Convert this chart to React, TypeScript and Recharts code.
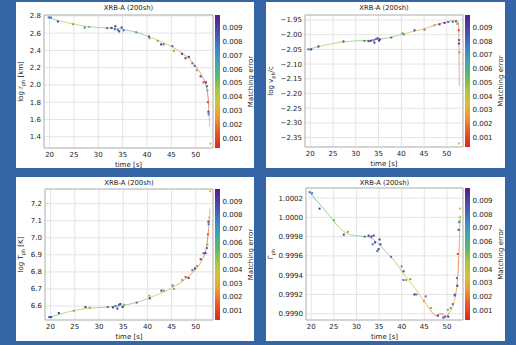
import type { ReactNode } from 'react';
import { ComposedChart, Line, Scatter, XAxis, YAxis, CartesianGrid, ReferenceArea } from 'recharts';

const FONT = '"DejaVu Sans", Verdana, sans-serif';
const TIME_DOMAIN: [number, number] = [18.85, 53.55];
const timeTicks = [20, 25, 30, 35, 40, 45, 50];
const ERR_DOMAIN: [number, number] = [0.0003, 0.0099];
const errTicks = [0.001, 0.002, 0.003, 0.004, 0.005, 0.006, 0.007, 0.008, 0.009];

// colour map of the matching error
const cmapStops = [0.0003, 0.0015, 0.0025, 0.0035, 0.0045, 0.0055, 0.0065, 0.0075, 0.0085, 0.0099];
const cmapColors = ['#d9281f', '#e85a2a', '#f09a2f', '#d8c037', '#a6c83f', '#5cb86b', '#3fa7ac', '#3e82cc', '#4953b4', '#5a1a8c'];

// log r_ph [km]: curve [t, v], points [t, v, err], line error [t, err]
const rphCurve = [
  [19.5, 2.782], [20, 2.775], [22, 2.742], [25, 2.705], [28, 2.675], [30, 2.664], [32, 2.66], [33.5, 2.658],
  [35, 2.645], [37, 2.62], [39, 2.59], [40, 2.568], [42, 2.522], [44, 2.475], [45, 2.445], [46, 2.412],
  [47, 2.378], [48, 2.335], [49, 2.285], [50, 2.215], [51, 2.135], [51.6, 2.07], [52, 2.02], [52.3, 1.96],
  [52.5, 1.88], [52.65, 1.78], [52.75, 1.67], [52.85, 1.52],
];
const rphPoints = [
  [19.9, 2.782, 0.0078], [20.3, 2.78, 0.0078], [21.7, 2.735, 0.0092], [24.8, 2.703, 0.0053], [27.2, 2.664, 0.0078],
  [28.1, 2.672, 0.0053], [31.8, 2.658, 0.0078], [32.7, 2.66, 0.0092], [33.5, 2.68, 0.0092], [33.4, 2.645, 0.0078],
  [34.0, 2.635, 0.0078], [34.3, 2.62, 0.0092], [34.8, 2.665, 0.0092], [35.2, 2.632, 0.0078], [37.8, 2.61, 0.0068],
  [40.4, 2.56, 0.0092], [40.5, 2.54, 0.0053], [42.2, 2.51, 0.0053], [42.9, 2.47, 0.0092], [43.4, 2.47, 0.0078],
  [45.2, 2.45, 0.0078], [45.5, 2.395, 0.0053], [47.2, 2.36, 0.0092], [47.9, 2.31, 0.0092], [48.6, 2.325, 0.0092],
  [49.3, 2.25, 0.0078], [49.8, 2.22, 0.0078], [50.2, 2.17, 0.0053], [51.0, 2.1, 0.0092], [51.6, 2.03, 0.001],
  [52.1, 2.03, 0.0092], [52.3, 1.985, 0.0078], [52.4, 1.94, 0.0053], [52.5, 1.8, 0.001], [52.6, 1.69, 0.0092],
  [52.65, 1.66, 0.0078], [53.0, 1.32, 0.0037],
];
const rphLineErr = [
  [19.5, 0.0065], [21, 0.005], [23, 0.0042], [27, 0.0045], [31, 0.0048], [35, 0.0055], [39, 0.0048], [41, 0.0036],
  [44, 0.0027], [48, 0.0022], [51, 0.002], [52.3, 0.0013], [52.6, 0.001], [52.85, 0.0032],
];

// log v_ph / c
const vphCurve = [
  [19.5, -2.05], [20, -2.048], [22, -2.04], [25, -2.03], [28, -2.023], [30, -2.021], [33, -2.019], [35, -2.016],
  [37, -2.011], [39, -2.004], [40, -2.0], [42, -1.991], [44, -1.984], [46, -1.975], [48, -1.964], [50, -1.956],
  [51, -1.953], [52, -1.952], [52.3, -1.953], [52.55, -1.958], [52.65, -1.98], [52.7, -2.06], [52.75, -2.175],
];
const vphPoints = [
  [19.6, -2.05, 0.0078], [20.2, -2.05, 0.0092], [21.8, -2.04, 0.0092], [27.3, -2.023, 0.0092], [31.9, -2.021, 0.0078],
  [32.8, -2.022, 0.0092], [33.3, -2.021, 0.0092], [33.9, -2.019, 0.0078], [34.1, -2.027, 0.0092], [34.4, -2.015, 0.0078],
  [34.8, -2.012, 0.0092], [35.1, -2.02, 0.0092], [35.3, -2.016, 0.0092], [37.8, -2.01, 0.0078], [40.3, -1.996, 0.0078],
  [40.6, -2.0, 0.0053], [42.9, -1.985, 0.0092], [45.1, -1.983, 0.0068], [47.3, -1.968, 0.0053], [48.4, -1.965, 0.0092],
  [49.5, -1.96, 0.0092], [50.3, -1.957, 0.0078], [51.3, -1.956, 0.0078], [52.0, -1.955, 0.0078], [52.3, -1.963, 0.0053],
  [52.6, -1.985, 0.001], [52.65, -2.03, 0.0092], [52.7, -2.018, 0.0078], [52.75, -2.06, 0.0053], [52.7, -2.37, 0.0037],
];
const vphLineErr = [
  [19.5, 0.0065], [21, 0.005], [24, 0.0042], [29, 0.0045], [34, 0.0052], [38, 0.0048], [41, 0.0037], [45, 0.0028],
  [49, 0.0023], [52, 0.0022], [52.6, 0.0012], [52.75, 0.0028],
];

// log T_ph [K]
const tphCurve = [
  [19.5, 6.535], [20, 6.537], [22, 6.553], [25, 6.574], [28, 6.588], [30, 6.591], [33, 6.596], [35, 6.604],
  [37, 6.615], [39, 6.632], [40, 6.643], [42, 6.666], [44, 6.69], [45, 6.705], [46, 6.722], [47, 6.74],
  [48, 6.762], [49, 6.787], [50, 6.815], [51, 6.853], [51.8, 6.905], [52.2, 6.95], [52.5, 7.01], [52.7, 7.07],
  [52.85, 7.13], [52.95, 7.17],
];
const tphPoints = [
  [19.7, 6.535, 0.0078], [20.1, 6.535, 0.0092], [21.7, 6.559, 0.0092], [24.8, 6.572, 0.0053], [27.2, 6.594, 0.0092],
  [28.1, 6.59, 0.0053], [31.8, 6.594, 0.0078], [32.9, 6.592, 0.0092], [33.4, 6.6, 0.0078], [33.8, 6.585, 0.0092],
  [34.1, 6.607, 0.0078], [34.4, 6.612, 0.0092], [34.9, 6.594, 0.0092], [35.2, 6.607, 0.0053], [37.8, 6.62, 0.0078],
  [40.4, 6.66, 0.0053], [40.5, 6.645, 0.0092], [42.9, 6.69, 0.0092], [43.4, 6.69, 0.0053], [45.2, 6.72, 0.0078],
  [45.5, 6.7, 0.0053], [47.2, 6.753, 0.0053], [47.9, 6.77, 0.001], [48.5, 6.764, 0.0092], [49.3, 6.81, 0.0078],
  [49.8, 6.82, 0.0092], [50.2, 6.835, 0.0053], [51.0, 6.874, 0.0092], [51.6, 6.91, 0.0078], [52.0, 6.91, 0.0092],
  [52.3, 6.94, 0.0078], [52.4, 6.96, 0.0053], [52.5, 7.02, 0.001], [52.6, 7.095, 0.0092], [52.65, 7.08, 0.0078],
  [52.8, 7.12, 0.0037], [53.0, 7.273, 0.0037],
];
const tphLineErr = [
  [19.5, 0.0065], [21, 0.005], [24, 0.0042], [29, 0.0045], [34, 0.0053], [38, 0.0048], [41, 0.0037], [45, 0.0027],
  [49, 0.0022], [51.5, 0.002], [52.5, 0.0012], [52.95, 0.0032],
];

// Gamma_ph
const gphCurve = [
  [19.5, 1.00027], [20, 1.00024], [22, 1.00013], [24, 1.00002], [25, 0.99996], [26, 0.9999], [27, 0.99986],
  [28, 0.99983], [30, 0.99981], [32, 0.9998], [33, 0.99979], [34, 0.99976], [35, 0.99972], [36, 0.99967],
  [37, 0.99962], [38, 0.99957], [39, 0.99951], [40, 0.99944], [41, 0.99938], [42, 0.99932], [43, 0.99926],
  [44, 0.99919], [45, 0.99913], [46, 0.99906], [47, 0.999], [47.8, 0.99898], [48.5, 0.999], [49.3, 0.99899],
  [49.8, 0.99897], [50.5, 0.99901], [51.2, 0.99907], [51.8, 0.99916], [52.2, 0.99929], [52.5, 0.99947],
  [52.7, 0.99967], [52.85, 0.9999], [52.95, 1.00002],
];
const gphPoints = [
  [19.65, 1.00026, 0.0078], [20.2, 1.00025, 0.0078], [21.85, 1.00009, 0.0092], [25.0, 0.99997, 0.0053],
  [27.2, 0.99982, 0.0092], [28.1, 0.99985, 0.0053], [31.8, 0.9998, 0.0078], [32.7, 0.99981, 0.0092],
  [33.3, 0.9998, 0.0092], [33.8, 0.99981, 0.0092], [33.6, 0.99972, 0.0078], [34.1, 0.99974, 0.0092],
  [34.6, 0.99965, 0.0078], [34.9, 0.99967, 0.0092], [35.1, 0.99977, 0.0092], [35.3, 0.99972, 0.0092],
  [37.65, 0.99959, 0.0078], [40.0, 0.99949, 0.0068], [40.4, 0.99944, 0.0092], [40.4, 0.99935, 0.0078],
  [41.0, 0.99935, 0.0023], [41.9, 0.99936, 0.0053], [42.8, 0.9992, 0.0092], [43.2, 0.9992, 0.0078],
  [45.3, 0.99918, 0.0078], [44.9, 0.99913, 0.0023], [46.5, 0.99906, 0.0053], [48.0, 0.99898, 0.0092],
  [49.2, 0.99896, 0.0092], [49.6, 0.99897, 0.0078], [50.3, 0.99897, 0.0092], [50.2, 0.99904, 0.0053],
  [50.8, 0.99906, 0.0053], [51.3, 0.9991, 0.0078], [51.7, 0.99919, 0.0092], [51.8, 0.9992, 0.0078],
  [52.2, 0.99937, 0.0078], [52.3, 0.99929, 0.0092], [52.4, 0.99962, 0.001], [52.6, 0.99987, 0.0092],
  [52.7, 0.99995, 0.0078], [52.8, 0.99996, 0.0053], [52.85, 1.0, 0.0037], [52.9, 1.00009, 0.0037],
];
const gphLineErr = [
  [19.5, 0.007], [21, 0.006], [24, 0.0052], [27, 0.0043], [31, 0.005], [35, 0.0055], [38, 0.005], [40, 0.0042],
  [42, 0.0032], [45, 0.0025], [47, 0.0014], [49, 0.0011], [50.5, 0.0018], [52, 0.0026], [52.5, 0.0012], [52.95, 0.0036],
];

function hexRgb(h: string) {
  return [1, 3, 5].map(i => parseInt(h.slice(i, i + 2), 16));
}

function errColor(e: number) {
  const v = Math.min(Math.max(e, cmapStops[0]), cmapStops[cmapStops.length - 1]);
  let i = 0;
  while (i < cmapStops.length - 2 && v > cmapStops[i + 1]) i++;
  const f = (v - cmapStops[i]) / (cmapStops[i + 1] - cmapStops[i]);
  const a = hexRgb(cmapColors[i]);
  const b = hexRgb(cmapColors[i + 1]);
  const c = a.map((x, k) => Math.round(x + (b[k] - x) * f));
  return `rgb(${c[0]},${c[1]},${c[2]})`;
}

// css gradient for the colour bar, bottom = low error
const cbarCss = `linear-gradient(to top, ${cmapStops
  .map((s, i) => `${cmapColors[i]} ${(((s - ERR_DOMAIN[0]) / (ERR_DOMAIN[1] - ERR_DOMAIN[0])) * 100).toFixed(1)}%`)
  .join(', ')})`;

const tickStyle = { fontSize: 7, fill: '#222', fontFamily: FONT };

type PanelProps = {
  id: string;
  left: number;
  top: number;
  w: number;
  h: number;
  pl: number;
  pt: number;
  pb: number;
  curve: number[][];
  points: number[][];
  lineErr: number[][];
  yDomain: [number, number];
  yTicks: number[];
  yFmt: (v: number) => string;
  yLabel: ReactNode;
};

const PLOT_RIGHT = 197;

function Panel({ id, left, top, w, h, pl, pt, pb, curve, points, lineErr, yDomain, yTicks, yFmt, yLabel }: PanelProps) {
  const curveData = curve.map(([t, v]) => ({ t, v }));
  const pointData = points.map(([t, v, e]) => ({ t, v, e }));
  const t0 = curve[0][0];
  const t1 = curve[curve.length - 1][0];
  const midX = (pl + PLOT_RIGHT) / 2;
  const midY = (pt + h - pb) / 2;

  return (
    <div style={{ position: 'absolute', left, top, width: w, height: h, background: '#fff' }}>
      <div style={{ position: 'absolute', left: 0, top: 0 }}>
        <ComposedChart width={w} height={h} margin={{ top: pt, right: w - PLOT_RIGHT, bottom: 0, left: 0 }}>
          <defs>
            <linearGradient id={`line-${id}`} x1="0" y1="0" x2="1" y2="0">
              {lineErr.map(([t, e]) => (
                <stop key={t} offset={(t - t0) / (t1 - t0)} stopColor={errColor(e)} />
              ))}
            </linearGradient>
          </defs>
          <CartesianGrid stroke="#e4e4e4" />
          <XAxis
            dataKey="t"
            type="number"
            domain={TIME_DOMAIN}
            ticks={timeTicks}
            interval={0}
            allowDataOverflow
            height={pb}
            axisLine={false}
            tickLine={false}
            tickSize={2}
            tickMargin={2.5}
            tick={tickStyle}
          />
          <YAxis
            type="number"
            domain={yDomain}
            ticks={yTicks}
            interval={0}
            allowDataOverflow
            width={pl}
            axisLine={false}
            tickLine={false}
            tickSize={1}
            tickMargin={2}
            tick={tickStyle}
            tickFormatter={yFmt}
          />
          <ReferenceArea
            x1={TIME_DOMAIN[0]}
            x2={TIME_DOMAIN[1]}
            y1={yDomain[0]}
            y2={yDomain[1]}
            fill="none"
            fillOpacity={0}
            stroke="#b8b8b8"
            strokeWidth={1}
          />
          <Line
            data={curveData}
            dataKey="v"
            type="monotone"
            stroke={`url(#line-${id})`}
            strokeWidth={1}
            strokeOpacity={0.7}
            dot={false}
            activeDot={false}
            isAnimationActive={false}
          />
          <Scatter
            data={pointData}
            dataKey="v"
            isAnimationActive={false}
            shape={(p: any) => (
              <rect x={p.cx - 1} y={p.cy - 1} width={2} height={2} fill={errColor(p.payload.e)} />
            )}
          />
        </ComposedChart>
      </div>

      {/* colour bar */}
      <div
        style={{
          position: 'absolute',
          left: 199,
          top: pt,
          width: 4.5,
          height: h - pt - pb,
          background: cbarCss,
        }}
      />
      <div style={{ position: 'absolute', left: 199, top: 0 }}>
        <ComposedChart width={40} height={h} margin={{ top: pt, right: 0, bottom: pb, left: 0 }}>
          <XAxis type="number" dataKey="x" domain={[0, 1]} hide />
          <YAxis
            orientation="right"
            type="number"
            domain={ERR_DOMAIN}
            ticks={errTicks}
            interval={0}
            allowDataOverflow
            width={35.5}
            axisLine={false}
            tickLine={false}
            tickSize={1}
            tickMargin={2}
            tick={{ ...tickStyle, textAnchor: 'start' }}
            tickFormatter={(v: number) => v.toFixed(3)}
          />
        </ComposedChart>
      </div>

      {/* titles and axis labels */}
      <svg
        width={w}
        height={h}
        style={{ position: 'absolute', left: 0, top: 0, pointerEvents: 'none' }}
        fontFamily={FONT}
        fontSize={7}
        fill="#222"
      >
        <text x={midX} y={7.5} textAnchor="middle" fontSize={6.8}>XRB-A (200sh)</text>
        <text x={midX} y={h - pb + 18.5} textAnchor="middle">time [s]</text>
        <text x={7} y={midY} textAnchor="middle" transform={`rotate(-90 7 ${midY})`}>{yLabel}</text>
        <text x={236.5} y={midY} textAnchor="middle" transform={`rotate(-90 236.5 ${midY})`}>Matching error</text>
      </svg>
    </div>
  );
}

const sub = (s: string) => (
  <tspan fontSize={5} dy={1.5}>{s}</tspan>
);
const back = (s: string) => <tspan dy={-1.5}>{s}</tspan>;

export default function App() {
  return (
    <div style={{ position: 'absolute', left: 0, top: 0, width: 516, height: 345, background: '#3465a4', overflow: 'hidden' }}>
      <Panel
        id="rph"
        left={16}
        top={2}
        w={238}
        h={166}
        pl={28}
        pt={13}
        pb={20}
        curve={rphCurve}
        points={rphPoints}
        lineErr={rphLineErr}
        yDomain={[1.27, 2.81]}
        yTicks={[1.4, 1.6, 1.8, 2.0, 2.2, 2.4, 2.6, 2.8]}
        yFmt={v => v.toFixed(1)}
        yLabel={<>log r{sub('ph')}{back(' [km]')}</>}
      />
      <Panel
        id="vph"
        left={266}
        top={2}
        w={239}
        h={166}
        pl={39}
        pt={13}
        pb={21}
        curve={vphCurve}
        points={vphPoints}
        lineErr={vphLineErr}
        yDomain={[-2.382, -1.933]}
        yTicks={[-2.35, -2.3, -2.25, -2.2, -2.15, -2.1, -2.05, -2.0, -1.95]}
        yFmt={v => v.toFixed(2).replace('-', '\u2212')}
        yLabel={<>log v{sub('ph')}{back('/c')}</>}
      />
      <Panel
        id="tph"
        left={16}
        top={177}
        w={238}
        h={164}
        pl={29}
        pt={12}
        pb={21}
        curve={tphCurve}
        points={tphPoints}
        lineErr={tphLineErr}
        yDomain={[6.518, 7.286]}
        yTicks={[6.6, 6.7, 6.8, 6.9, 7.0, 7.1, 7.2]}
        yFmt={v => v.toFixed(1)}
        yLabel={<>log T{sub('ph')}{back(' [K]')}</>}
      />
      <Panel
        id="gph"
        left={266}
        top={177}
        w={239}
        h={164}
        pl={40}
        pt={11}
        pb={21}
        curve={gphCurve}
        points={gphPoints}
        lineErr={gphLineErr}
        yDomain={[0.998935, 1.000304]}
        yTicks={[0.999, 0.9992, 0.9994, 0.9996, 0.9998, 1.0, 1.0002]}
        yFmt={v => v.toFixed(4)}
        yLabel={<>Γ{sub('ph')}</>}
      />
    </div>
  );
}
